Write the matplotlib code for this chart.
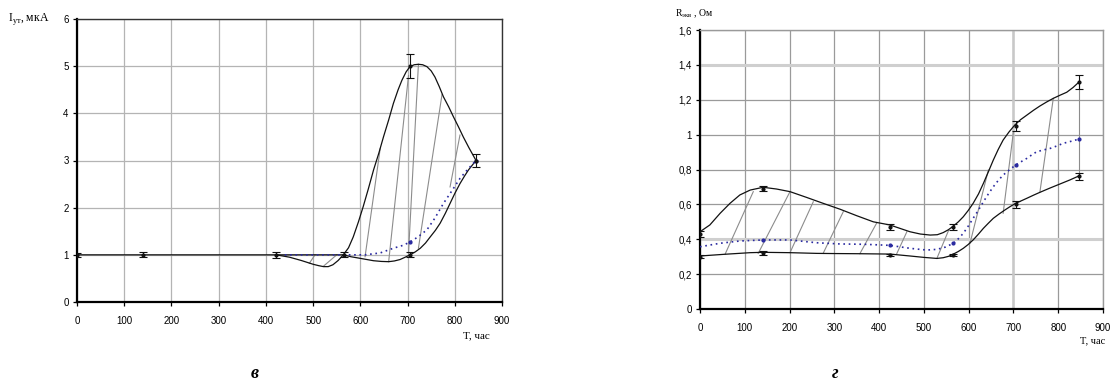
import matplotlib
matplotlib.use("Agg")
import matplotlib.pyplot as plt

# ---------------- data: panel "в" (leakage current) ----------------
ticks_T = [0, 100, 200, 300, 400, 500, 600, 700, 800, 900]
left_yticks = [0, 1, 2, 3, 4, 5, 6]

left_upper_T = [0, 140, 422, 564, 575, 585, 596, 606, 617, 628, 639, 649, 660, 670, 680, 688, 697,
                705, 714, 723, 732, 741, 750, 758, 767, 776, 787, 797, 808, 818, 830, 845]
left_upper_I = [1.0, 1.0, 1.0, 1.0, 1.15, 1.38, 1.7, 2.02, 2.4, 2.8, 3.15, 3.5, 3.86, 4.21, 4.5, 4.7, 4.88,
                4.99, 5.03, 5.04, 5.03, 4.99, 4.9, 4.77, 4.57, 4.35, 4.14, 3.93, 3.71, 3.5, 3.27, 3.0]

left_lower_T = [422, 450, 475, 500, 512, 522, 532, 542, 553, 564, 580, 600, 628, 645, 660, 672, 684, 695,
                705, 716, 727, 738, 748, 759, 769, 780, 790, 800, 811, 820, 829, 845]
left_lower_I = [1.0, 0.95, 0.88, 0.8, 0.77, 0.75, 0.75, 0.79, 0.88, 1.0, 0.96, 0.925, 0.875, 0.86, 0.855, 0.87, 0.9, 0.95,
                1.0, 1.06, 1.14, 1.25, 1.38, 1.52, 1.67, 1.88, 2.09, 2.3, 2.51, 2.66, 2.8, 3.0]

left_mean_T = [440, 500, 564, 610, 642, 670, 690, 705, 722, 741, 758, 776, 794, 811, 828, 845]
left_mean_I = [1.0, 1.0, 1.0, 1.0, 1.04, 1.14, 1.2, 1.27, 1.38, 1.53, 1.78, 2.09, 2.36, 2.62, 2.82, 3.0]
left_mean_pts_T = [705, 845]
left_mean_pts_I = [1.27, 3.0]

left_err_T = [0, 140, 422, 565, 705, 705, 845]
left_err_I = [1.0, 1.0, 1.0, 1.0, 5.0, 1.0, 3.0]
left_err_d = [0.04, 0.05, 0.06, 0.05, 0.25, 0.05, 0.13]

left_hatch_T0 = [492, 522, 610, 660, 702, 723, 790]
left_hatch_I0 = [0.82, 0.76, 0.96, 0.855, 1.03, 1.14, 2.44]
left_hatch_T1 = [504, 550, 642, 702, 723, 773, 811]
left_hatch_I1 = [1.0, 1.0, 3.25, 4.8, 5.04, 4.4, 3.54]

# ---------------- data: panel "г" (equivalent resistance) ----------------
right_yticks = [0, 0.2, 0.4, 0.6, 0.8, 1.0, 1.2, 1.4, 1.6]
right_ytick_labels = ["0", "0,2", "0,4", "0,6", "0,8", "1", "1,2", "1,4", "1,6"]

right_upper_T = [0, 22, 45, 67, 89, 112, 141, 171, 201, 238, 275, 313, 350, 387, 424, 447, 469, 492, 514,
                 530, 543, 555, 566, 577, 588, 599, 610, 622, 633, 644, 655, 666, 677, 690, 703, 716, 730,
                 745, 759, 774, 789, 804, 819, 833, 847]
right_upper_R = [0.443, 0.482, 0.549, 0.606, 0.654, 0.682, 0.698, 0.688, 0.673, 0.64, 0.606, 0.572, 0.535,
                 0.50, 0.482, 0.462, 0.443, 0.43, 0.424, 0.426, 0.438, 0.455, 0.476, 0.50, 0.529, 0.565, 0.606,
                 0.66, 0.721, 0.787, 0.854, 0.915, 0.969, 1.015, 1.055, 1.086, 1.112, 1.14, 1.164, 1.187,
                 1.208, 1.226, 1.243, 1.27, 1.303]

right_lower_T = [0, 56, 112, 141, 201, 260, 298, 357, 424, 469, 500, 529, 543, 555, 566, 577, 588, 599, 610,
                 622, 633, 644, 655, 668, 681, 693, 705, 718, 730, 745, 759, 781, 804, 826, 847]
right_lower_R = [0.304, 0.314, 0.323, 0.325, 0.323, 0.319, 0.318, 0.317, 0.315, 0.304, 0.296, 0.29, 0.294,
                 0.302, 0.315, 0.33, 0.348, 0.37, 0.396, 0.43, 0.463, 0.492, 0.52, 0.545, 0.568, 0.588, 0.606,
                 0.621, 0.635, 0.653, 0.669, 0.693, 0.717, 0.74, 0.764]

right_mean_T = [0, 45, 89, 141, 201, 260, 313, 368, 424, 469, 506, 529, 548, 566, 577, 588, 599, 610, 622,
                633, 644, 655, 666, 677, 691, 705, 718, 730, 741, 752, 767, 782, 797, 811, 829, 847]
right_mean_R = [0.357, 0.377, 0.39, 0.396, 0.396, 0.38, 0.373, 0.371, 0.365, 0.348, 0.338, 0.342, 0.355,
                0.377, 0.403, 0.434, 0.475, 0.52, 0.568, 0.615, 0.66, 0.701, 0.737, 0.768, 0.798, 0.826,
                0.846, 0.864, 0.884, 0.902, 0.912, 0.921, 0.935, 0.95, 0.962, 0.975]
right_mean_pts_T = [141, 424, 564, 706, 847]
right_mean_pts_R = [0.396, 0.365, 0.377, 0.826, 0.975]

right_err_T = [0, 0, 141, 141, 424, 424, 565, 565, 706, 706, 847, 847]
right_err_R = [0.43, 0.30, 0.69, 0.32, 0.47, 0.31, 0.47, 0.31, 1.05, 0.60, 1.30, 0.76]
right_err_d = [0.015, 0.01, 0.015, 0.01, 0.015, 0.008, 0.015, 0.008, 0.03, 0.02, 0.04, 0.02]

right_hatch_T0 = [56, 130, 201, 275, 357, 439, 529, 603, 677, 759, 847]
right_hatch_R0 = [0.314, 0.319, 0.323, 0.319, 0.317, 0.315, 0.29, 0.377, 0.549, 0.669, 0.764]
right_hatch_T1 = [119, 201, 253, 320, 395, 462, 555, 644, 700, 789, 847]
right_hatch_R1 = [0.673, 0.673, 0.615, 0.558, 0.495, 0.443, 0.45, 0.797, 1.017, 1.208, 1.303]

# ---------------- styling ----------------
SERIF = ["Liberation Serif", "DejaVu Serif"]
SANS = ["Liberation Sans", "DejaVu Sans"]
plt.rcParams["font.family"] = SANS
plt.rcParams["mathtext.fontset"] = "custom"
plt.rcParams["mathtext.rm"] = "Liberation Serif"

fig = plt.figure(figsize=(11.1, 3.9), dpi=100)
W, H = 1110, 390


def ax_rect(x0, x1, ytop, ybot):
    return [x0 / W, 1 - ybot / H, (x1 - x0) / W, (ybot - ytop) / H]


def style_axes(ax, grid_color, frame_color):
    ax.set_axisbelow(True)
    for s in ("left", "bottom"):
        ax.spines[s].set_color("black")
        ax.spines[s].set_linewidth(1.6)
    for s in ("top", "right"):
        ax.spines[s].set_color(frame_color)
        ax.spines[s].set_linewidth(1.0)
    ax.tick_params(axis="both", direction="out", length=3, width=0.9,
                   labelsize=7, colors="black", pad=3)
    ax.tick_params(axis="x", pad=7)
    ax.grid(True, color=grid_color, linewidth=0.9)


MEAN_COLOR = "#2a2aa0"
LINE_COLOR = "#111111"
HATCH_COLOR = "#8c8c8c"

# ---- left panel ----
axL = fig.add_axes(ax_rect(77, 502, 19, 302))
style_axes(axL, "#b4b4b4", "#333333")
axL.set_xlim(0, 900)
axL.set_ylim(0, 6)
axL.set_xticks(ticks_T)
axL.set_yticks(left_yticks)
for t0, i0, t1, i1 in zip(left_hatch_T0, left_hatch_I0, left_hatch_T1, left_hatch_I1):
    axL.plot([t0, t1], [i0, i1], color=HATCH_COLOR, lw=0.8, zorder=2)
axL.plot(left_upper_T, left_upper_I, color=LINE_COLOR, lw=0.9, zorder=3)
axL.plot(left_lower_T, left_lower_I, color=LINE_COLOR, lw=0.9, zorder=3)
axL.plot(left_mean_T, left_mean_I, color=MEAN_COLOR, lw=1.2, ls=(0, (1, 2.2)), zorder=3)
axL.plot(left_mean_pts_T, left_mean_pts_I, ls="none", marker="o", ms=2, color=MEAN_COLOR, zorder=4)
axL.errorbar(left_err_T, left_err_I, yerr=left_err_d, fmt="o", ms=2, color=LINE_COLOR,
             ecolor=LINE_COLOR, elinewidth=0.8, capsize=3, capthick=0.8, zorder=5)

# ---- right panel ----
axR = fig.add_axes(ax_rect(700, 1103, 30, 309))
style_axes(axR, "#9a9a9a", "#9a9a9a")
axR.set_xlim(0, 900)
axR.set_ylim(0, 1.6)
axR.set_xticks(ticks_T)
axR.set_yticks(right_yticks)
axR.set_yticklabels(right_ytick_labels)
# a few gridlines in the scan look lighter and wider (drawn over the normal grid)
axR.axhline(0.4, color="#cfcfcf", lw=2.2, zorder=0.8)
axR.axhline(1.4, color="#cfcfcf", lw=2.2, zorder=0.8)
axR.axvline(700, color="#c8c8c8", lw=1.8, zorder=0.8)
for t0, r0, t1, r1 in zip(right_hatch_T0, right_hatch_R0, right_hatch_T1, right_hatch_R1):
    axR.plot([t0, t1], [r0, r1], color=HATCH_COLOR, lw=0.8, zorder=2)
axR.plot(right_upper_T, right_upper_R, color=LINE_COLOR, lw=0.9, zorder=3)
axR.plot(right_lower_T, right_lower_R, color=LINE_COLOR, lw=0.9, zorder=3)
axR.plot(right_mean_T, right_mean_R, color=MEAN_COLOR, lw=1.2, ls=(0, (1, 2.2)), zorder=3)
axR.plot(right_mean_pts_T, right_mean_pts_R, ls="none", marker="o", ms=2, color=MEAN_COLOR, zorder=4)
axR.errorbar(right_err_T, right_err_R, yerr=right_err_d, fmt="o", ms=2, color=LINE_COLOR,
             ecolor=LINE_COLOR, elinewidth=0.8, capsize=3, capthick=0.8, zorder=5)

# ---- texts ----
fig.text(8 / W, 1 - 19 / H, r"I$_{\mathregular{ут}}$, мкА", family=SERIF, fontsize=8.5,
         ha="left", va="center")
fig.text(463 / W, 1 - 336 / H, "T, час", family=SERIF, fontsize=8, ha="left", va="center")
fig.text(675 / W, 1 - 14 / H, r"R$_{\mathregular{экв}}$ , Ом", family=SERIF, fontsize=7,
         ha="left", va="center")
fig.text(1080 / W, 1 - 341 / H, "T, час", family=SERIF, fontsize=7.5, ha="left", va="center")
fig.text(255 / W, 1 - 373 / H, "в", family=SERIF, fontsize=13, style="italic",
         weight="bold", ha="center", va="center")
fig.text(835 / W, 1 - 373 / H, "г", family=SERIF, fontsize=13, style="italic",
         weight="bold", ha="center", va="center")

fig.savefig("out.png", dpi=100)
